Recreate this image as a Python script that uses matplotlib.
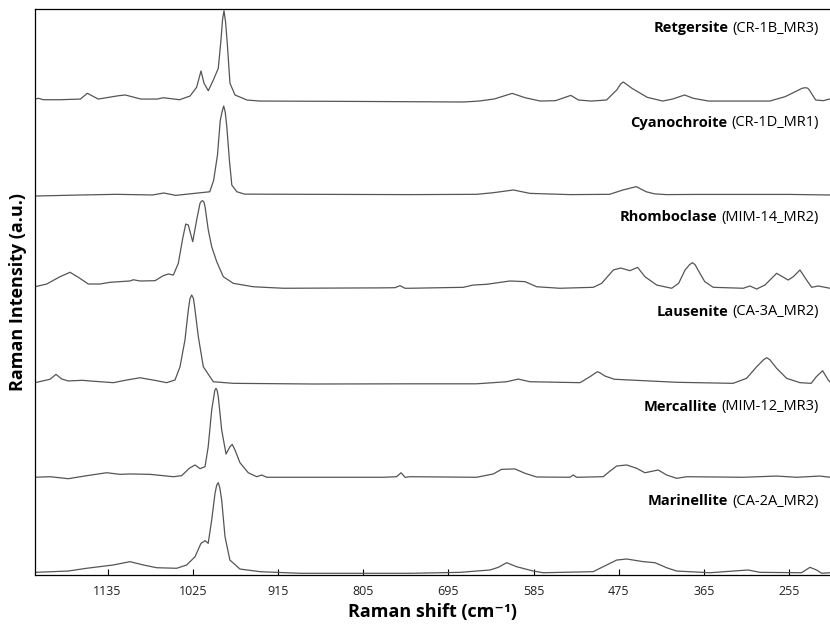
import matplotlib.pyplot as plt
import matplotlib.transforms as mtransforms

plt.rcParams['font.family'] = ['Open Sans', 'DejaVu Sans']

minerals = ['Retgersite', 'Cyanochroite', 'Rhomboclase', 'Lausenite', 'Mercallite', 'Marinellite']
samples = ['CR-1B_MR3', 'CR-1D_MR1', 'MIM-14_MR2', 'CA-3A_MR2', 'MIM-12_MR3', 'CA-2A_MR2']
offsets = [5, 4, 3, 2, 1, 0]
xticks = [1135, 1025, 915, 805, 695, 585, 475, 365, 255]

# spectra: Raman shift (cm-1) and intensity above each baseline
retgersite_x = [1228.6, 1224, 1218, 1196, 1170, 1161, 1147, 1121, 1112, 1092, 1071, 1063, 1042,
                1028.5, 1020, 1014.3, 1010.4, 1004.9, 998.4, 992, 988.5, 986.5, 984.6, 982.5, 980.4,
                976.9, 970.4, 955, 938.6, 839.8, 675.2, 655.4, 635.7, 612.6, 596.2, 576.4, 556.6,
                536.9, 527, 510.5, 490.8, 477.6, 472.5, 469.1, 464, 457.9, 438.1, 418.3, 405.2, 390,
                378.8, 359.1, 280, 260.3, 247.1, 238, 233.9, 231, 228.7, 220.8, 210.9, 202.3]
retgersite_y = [0.01, 0.018, 0.003, 0.003, 0.01, 0.071, 0.01, 0.045, 0.053, 0.01, 0.01, 0.024, 0.003,
                0.042, 0.134, 0.307, 0.177, 0.098, 0.211, 0.335, 0.634, 0.85, 0.944, 0.82, 0.60,
                0.177, 0.053, 0.0, -0.011, -0.014, -0.021, -0.011, 0.011, 0.070, 0.025, -0.011, -0.007,
                0.049, 0.0, -0.011, 0.0, 0.106, 0.17, 0.19, 0.16, 0.123, 0.028, -0.011, 0.011, 0.053,
                0.018, -0.011, -0.011, 0.035, 0.088, 0.125, 0.13, 0.125, 0.102, 0.0, -0.007, 0.011]

cyanochroite_x = [1228.4, 1169, 1123, 1077, 1062.4, 1047, 1003, 998, 993, 989.5, 987, 985, 983, 981,
                  977.5, 974.5, 968, 958, 744.5, 658.5, 637, 611, 589.7, 538, 486.8, 469.6, 452.4,
                  439.5, 428.8, 413.7, 375, 255, 202.3]
cyanochroite_y = [-0.015, -0.004, 0.003, -0.004, 0.017, -0.008, 0.03, 0.15, 0.42, 0.78, 0.88, 0.937, 0.87,
                  0.72, 0.35, 0.10, 0.03, 0.005, 0.0, 0.003, 0.02, 0.049, 0.013, 0.0, 0.003, 0.049,
                  0.084, 0.03, 0.008, 0.0, 0.002, 0.002, -0.004]

rhomboclase_x = [1228.6, 1213.5, 1196.3, 1183.4, 1172.7, 1159.8, 1144.7, 1131.8, 1106, 1101.7, 1093,
                 1073.7, 1063, 1056.5, 1050, 1043.6, 1037.9, 1034, 1030.7, 1025, 1019.9, 1015.6, 1013.8,
                 1012.1, 1010.5, 1009.1, 1004.9, 1000.5, 994, 985.5, 972.6, 946.8, 908, 783.2, 764,
                 757.4, 751, 744.5, 675.7, 663, 645.5, 615.4, 596, 581, 550.9, 507.9, 497.1, 482,
                 472.6, 460.6, 450.7, 441.2, 426, 406.7, 397.7, 389.4, 383.5, 380, 376.5, 372.7, 364,
                 353, 314.3, 305.7, 297, 286.3, 271.2, 256.2, 249.7, 241.1, 232.5, 226, 217.5, 202.3]
rhomboclase_y = [0.026, 0.055, 0.132, 0.179, 0.126, 0.055, 0.055, 0.073, 0.087, 0.10, 0.087,
                 0.09, 0.143, 0.161, 0.15, 0.274, 0.538, 0.689, 0.679, 0.502, 0.732, 0.908, 0.93,
                 0.936, 0.92, 0.872, 0.626, 0.449, 0.291, 0.132, 0.062, 0.026, 0.01, 0.014, 0.016,
                 0.037, 0.01, 0.01, 0.02, 0.044, 0.052, 0.087, 0.08, 0.026, 0.01, 0.02, 0.062, 0.203,
                 0.224, 0.196, 0.231, 0.132, 0.044, 0.01, 0.062, 0.203, 0.26, 0.28, 0.26, 0.203, 0.08,
                 0.02, 0.01, 0.034, 0.002, 0.044, 0.168, 0.097, 0.132, 0.203, 0.097, 0.02, 0.034, 0.01]

lausenite_x = [1228.6, 1209.2, 1201.5, 1194.1, 1185.6, 1168, 1157.6, 1127.5, 1110.2, 1093, 1071.5,
               1058.6, 1047.9, 1041.4, 1035, 1030.7, 1028.5, 1026.3, 1024, 1022, 1017.8, 1011.3, 998.4,
               972.6, 869, 744.5, 658.5, 619.7, 604.7, 589.7, 525, 512.2, 505, 502.3, 499, 492.8,
               480.5, 400.3, 327.4, 310, 297, 288, 284, 280, 271.2, 258.3, 241, 226.5, 220, 211.8,
               204.6, 202.3]
lausenite_y = [0.012, 0.048, 0.10, 0.051, 0.03, 0.037, 0.03, 0.012, 0.04, 0.064, 0.033,
               0.012, 0.04, 0.18, 0.463, 0.78, 0.90, 0.939, 0.90, 0.78, 0.50, 0.18, 0.022,
               0.005, -0.002, 0.0, 0.0, 0.022, 0.05, 0.022, 0.012, 0.075, 0.115, 0.128, 0.115, 0.082,
               0.048, 0.016, 0.005, 0.058, 0.18, 0.255, 0.276, 0.255, 0.164, 0.058, 0.012, 0.005,
               0.075, 0.138, 0.04, 0.02]

mercallite_x = [1228.6, 1209.2, 1185.6, 1161.8, 1136, 1118.9, 1106, 1080.1, 1050, 1039.2, 1029.4,
                1022, 1015.6, 1009.1, 1005, 1000.5, 996.5, 995, 993.5, 992, 987.6, 982, 976.9, 974,
                970.4, 964, 953.3, 942.4, 936, 929.5, 779, 761.8, 756, 751, 744.5, 658.5, 637, 626.3,
                609, 596, 581, 538, 533.7, 529.4, 495, 487.3, 477.7, 464.8, 451.9, 441.2, 424, 413.2,
                400.3, 387.3, 314.3, 271.2, 245.4, 215.3, 202.3]
mercallite_y = [0.012, 0.018, -0.003, 0.029, 0.06, 0.043, 0.047, 0.043, 0.018, 0.029, 0.107,
                0.142, 0.103, 0.124, 0.335, 0.723, 0.93, 0.952, 0.93, 0.864, 0.512, 0.258, 0.335, 0.36,
                0.30, 0.166, 0.06, 0.018, 0.036, 0.012, 0.012, 0.018, 0.06, 0.012, 0.018, 0.012, 0.047,
                0.096, 0.10, 0.054, 0.015, 0.012, 0.036, 0.012, 0.018, 0.071, 0.131, 0.142, 0.107,
                0.06, 0.089, 0.036, 0.001, 0.018, 0.012, 0.025, 0.012, 0.025, 0.012]

marinellite_x = [1228.6, 1185.6, 1162, 1127.5, 1106, 1088.8, 1071.5, 1045.7, 1032.8, 1022, 1014.3,
                 1009, 1005, 1000.5, 996.2, 994, 992, 990, 987.6, 983.3, 977, 964, 938, 886.5, 744.5,
                 680, 641.3, 630.5, 619.7, 607, 585.4, 572.5, 508, 495, 477.7, 464.8, 443.3, 428.3,
                 413.2, 400.3, 357.3, 308, 292.7, 239, 228.2, 219.6, 213, 202.3]
marinellite_y = [0.007, 0.021, 0.05, 0.085, 0.12, 0.085, 0.056, 0.05, 0.085, 0.172, 0.314,
                 0.342, 0.314, 0.56, 0.842, 0.93, 0.955, 0.90, 0.772, 0.384, 0.137, 0.042, 0.014, -0.003,
                 -0.003, 0.007, 0.032, 0.06, 0.109, 0.067, 0.021, 0.003, 0.014, 0.067, 0.137, 0.148,
                 0.12, 0.109, 0.056, 0.021, 0.003, 0.032, 0.007, 0.003, 0.06, 0.032, -0.003, 0.003]

spectra = [(retgersite_x, retgersite_y), (cyanochroite_x, cyanochroite_y),
           (rhomboclase_x, rhomboclase_y), (lausenite_x, lausenite_y),
           (mercallite_x, mercallite_y), (marinellite_x, marinellite_y)]

fig = plt.figure(figsize=(8.3, 6.25), dpi=100)
ax = fig.add_axes([35 / 830, 50 / 625, 796 / 830, 566 / 625])

for (xs, ys), off in zip(spectra, offsets):
    ax.plot(xs, [v + off for v in ys], color='#555555', lw=0.9, solid_joinstyle='round')

ax.set_xlim(1228.6, 201.0)
ax.set_ylim(-0.021, 5.962)
ax.set_xticks(xticks)
ax.set_yticks([])
ax.tick_params(axis='x', direction='in', length=4, width=0.8, labelsize=9, pad=7,
               labelcolor='#222222')
for side in ['left', 'top', 'bottom']:
    ax.spines[side].set_linewidth(0.9)
ax.spines['right'].set_visible(False)

ax.set_xlabel('Raman shift (cm⁻¹)', fontsize=13, fontweight='bold', labelpad=4)
ax.set_ylabel('Raman Intensity (a.u.)', fontsize=13, fontweight='bold', labelpad=6)

trans = mtransforms.blended_transform_factory(ax.transAxes, ax.transData)
for name, code, off in zip(minerals, samples, offsets):
    code_txt = ax.text(0.985, off + 0.76, f'({code})', transform=trans, ha='right', va='center',
                       fontsize=10.5)
    ax.annotate(name, xy=(0, 0.5), xycoords=code_txt, xytext=(-3, 0), textcoords='offset points',
                ha='right', va='center', fontsize=10.5, fontweight='bold')

fig.savefig('out.png', dpi=100)
